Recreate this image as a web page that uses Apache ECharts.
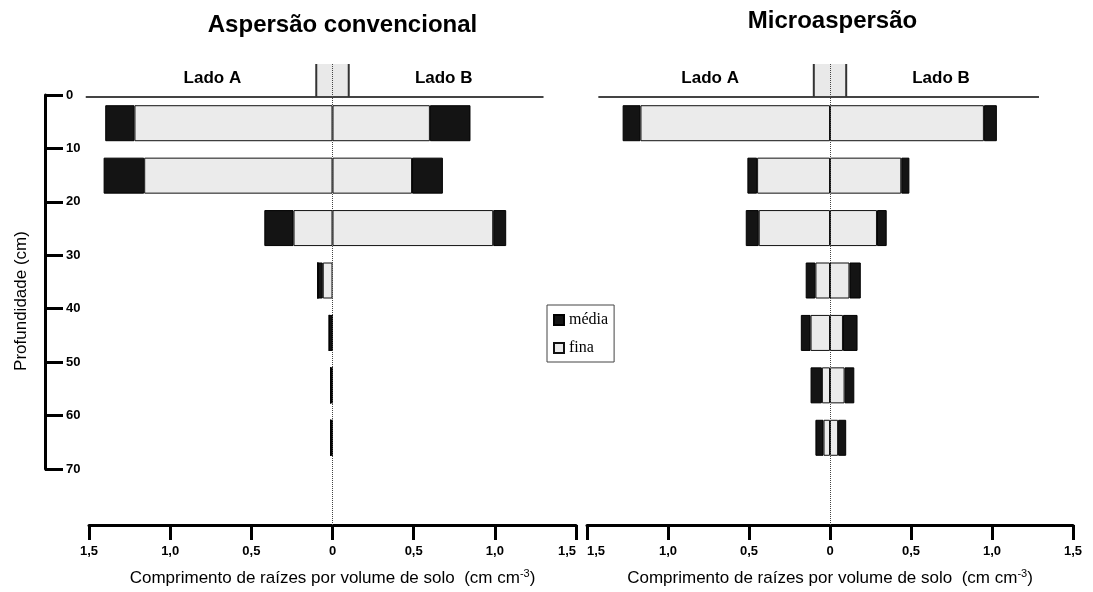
<!DOCTYPE html>
<html>
<head>
<meta charset="utf-8">
<script src="https://cdn.jsdelivr.net/npm/echarts@6/dist/echarts.min.js"></script>
<style>
html,body{margin:0;padding:0;background:#fff;}
#chart{width:1093px;height:592px;}
</style>
</head>
<body>
<div id="chart"></div>
<script>
// ---- data ----
const depthCats = ['0-10', '10-20', '20-30', '30-40', '40-50', '50-60', '60-70'];
const depthTicks = [0, 10, 20, 30, 40, 50, 60, 70];
const xTicks = [-1.5, -1.0, -0.5, 0, 0.5, 1.0, 1.5];

// Aspersão convencional
const aspA_fina  = [1.22, 1.16, 0.24, 0.06, 0.00, 0.00, 0.00];
const aspA_media = [0.18, 0.25, 0.18, 0.03, 0.02, 0.012, 0.012];
const aspB_fina  = [0.60, 0.49, 0.99, 0.00, 0.00, 0.00, 0.00];
const aspB_media = [0.25, 0.19, 0.08, 0.00, 0.00, 0.00, 0.00];

// Microaspersão
const micA_fina  = [1.17, 0.45, 0.44, 0.09, 0.12, 0.05, 0.04];
const micA_media = [0.11, 0.06, 0.08, 0.06, 0.06, 0.07, 0.05];
const micB_fina  = [0.95, 0.44, 0.29, 0.12, 0.08, 0.09, 0.05];
const micB_media = [0.08, 0.05, 0.06, 0.07, 0.09, 0.06, 0.05];

const titles = ['Aspersão convencional', 'Microaspersão'];
const sideLabels = ['Lado A', 'Lado B'];

// ---- styles ----
const SANS = '"Liberation Sans", Arial, sans-serif';
const SERIF = '"Liberation Serif", "Times New Roman", serif';
const finaStyle = { color: '#ebebeb', borderColor: '#111', borderWidth: 1 };
const mediaStyle = { color: '#141414', borderColor: '#000', borderWidth: 1 };

const fmt = v => (Math.abs(v) < 1e-9 ? '0' : Math.abs(v).toFixed(1).replace('.', ','));

function visibleX(gridIndex, alignMin, alignMax) {
  return {
    gridIndex, type: 'value', min: xTicks[0], max: xTicks[xTicks.length - 1], interval: 0.5,
    axisLine: { show: true, onZero: false, lineStyle: { color: '#000', width: 3 } },
    axisTick: { show: true, length: 15, lineStyle: { color: '#000', width: 3 } },
    axisLabel: { formatter: fmt, margin: 20, color: '#000', fontWeight: 'bold', fontSize: 13, fontFamily: SANS,
      alignMinLabel: alignMin, alignMaxLabel: alignMax },
    splitLine: { show: false },
    name: '{a|Comprimento de raízes por volume de solo  (cm cm}{s|-3}{a|)}',
    nameLocation: 'middle', nameGap: 43,
    nameTextStyle: {
      rich: {
        a: { fontSize: 17, fontFamily: SANS, color: '#000', lineHeight: 20 },
        s: { fontSize: 11, fontFamily: SANS, color: '#000', lineHeight: 20, verticalAlign: 'top', padding: [0, 0, 7, 0] }
      }
    }
  };
}

function barSeries(name, xi, yi, data, style, stack) {
  return { type: 'bar', name, xAxisIndex: xi, yAxisIndex: yi, data, stack, barWidth: 36, itemStyle: style, z: 3, emphasis: { disabled: true } };
}
function centerLine(xi, yi) {
  return {
    type: 'scatter', xAxisIndex: xi, yAxisIndex: yi, data: [], silent: true, z: 1,
    markLine: { silent: true, symbol: 'none', label: { show: false },
      lineStyle: { type: 'dotted', color: '#444', width: 1 }, data: [{ xAxis: 0 }] }
  };
}

const neg = a => a.map(v => -v);

const option = {
  animation: false,
  backgroundColor: '#fff',
  grid: [
    { left: 89, width: 487, top: 97, height: 367 },
    { left: 89, width: 487, top: 63, height: 462 },
    { left: 587, width: 486, top: 97, height: 367 },
    { left: 587, width: 486, top: 63, height: 462 },
    { left: 45, width: 20, top: 95, height: 374 }
  ],
  xAxis: [
    { gridIndex: 0, type: 'value', min: -1.5, max: 1.5, show: false },
    visibleX(1, 'center', 'right'),
    { gridIndex: 2, type: 'value', min: -1.5, max: 1.5, show: false },
    visibleX(3, 'left', 'center'),
    { gridIndex: 4, type: 'value', min: 0, max: 1, show: false }
  ],
  yAxis: [
    { gridIndex: 0, type: 'category', data: depthCats, inverse: true, show: false },
    { gridIndex: 1, type: 'value', min: 0, max: 1, show: false },
    { gridIndex: 2, type: 'category', data: depthCats, inverse: true, show: false },
    { gridIndex: 3, type: 'value', min: 0, max: 1, show: false },
    {
      gridIndex: 4, type: 'value', min: depthTicks[0], max: depthTicks[depthTicks.length - 1], interval: 10, inverse: true,
      axisLine: { show: true, lineStyle: { color: '#000', width: 3 } },
      axisTick: { show: true, inside: true, length: 18, lineStyle: { color: '#000', width: 3 } },
      axisLabel: { inside: true, margin: 21, color: '#000', fontWeight: 'bold', fontSize: 13, fontFamily: SANS },
      splitLine: { show: false }
    }
  ],
  legend: {
    data: ['média', 'fina'], orient: 'vertical', left: 547, top: 305,
    itemWidth: 10, itemHeight: 10, itemGap: 12, icon: 'rect', selectedMode: false,
    textStyle: { fontFamily: SERIF, fontSize: 16, color: '#000' },
    borderColor: '#444', borderWidth: 1, padding: [7, 6, 6, 6]
  },
  series: [
    centerLine(1, 1),
    centerLine(3, 3),
    barSeries('fina', 0, 0, neg(aspA_fina), finaStyle, 'L'),
    barSeries('média', 0, 0, neg(aspA_media), mediaStyle, 'L'),
    barSeries('fina', 0, 0, aspB_fina, finaStyle, 'L'),
    barSeries('média', 0, 0, aspB_media, mediaStyle, 'L'),
    barSeries('fina', 2, 2, neg(micA_fina), finaStyle, 'R'),
    barSeries('média', 2, 2, neg(micA_media), mediaStyle, 'R'),
    barSeries('fina', 2, 2, micB_fina, finaStyle, 'R'),
    barSeries('média', 2, 2, micB_media, mediaStyle, 'R')
  ]
};

const chart = echarts.init(document.getElementById('chart'), null, { renderer: 'canvas' });
chart.setOption(option);

// header decorations (emitter box, ground line, side labels, titles)
function header(xi, lineFrom, lineTo, titleText, titleDx, titleY) {
  const p = v => chart.convertToPixel({ xAxisIndex: xi }, v);
  const x0 = p(0), bl = p(-0.1), br = p(0.1);
  const lineY = 97, boxTop = 64;
  return [
    { type: 'line', shape: { x1: p(lineFrom), y1: lineY, x2: p(lineTo), y2: lineY }, style: { stroke: '#444', lineWidth: 2 }, z: 5 },
    { type: 'rect', shape: { x: bl, y: boxTop, width: br - bl, height: lineY - boxTop - 1 }, style: { fill: '#e9e9e9' }, z: 4 },
    { type: 'line', shape: { x1: bl, y1: boxTop, x2: bl, y2: lineY }, style: { stroke: '#333', lineWidth: 2 }, z: 5 },
    { type: 'line', shape: { x1: br, y1: boxTop, x2: br, y2: lineY }, style: { stroke: '#333', lineWidth: 2 }, z: 5 },
    { type: 'text', x: p(-0.74), y: 78, style: { text: sideLabels[0], font: 'bold 17px ' + SANS, fill: '#000', textAlign: 'center', textVerticalAlign: 'middle' }, z: 5 },
    { type: 'text', x: p(0.685), y: 78, style: { text: sideLabels[1], font: 'bold 17px ' + SANS, fill: '#000', textAlign: 'center', textVerticalAlign: 'middle' }, z: 5 },
    { type: 'text', x: x0 + titleDx, y: titleY, style: { text: titleText, font: 'bold 24px ' + SANS, fill: '#000', textAlign: 'center', textVerticalAlign: 'middle' }, z: 5 }
  ];
}

chart.setOption({
  graphic: [
    ...header(0, -1.52, 1.30, titles[0], 10, 25),
    ...header(2, -1.43, 1.29, titles[1], 2.5, 21),
    { type: 'text', x: 21, y: 301, rotation: Math.PI / 2,
      style: { text: 'Profundidade (cm)', font: '17px ' + SANS, fill: '#000', textAlign: 'center', textVerticalAlign: 'middle' } }
  ]
});
</script>
</body>
</html>
